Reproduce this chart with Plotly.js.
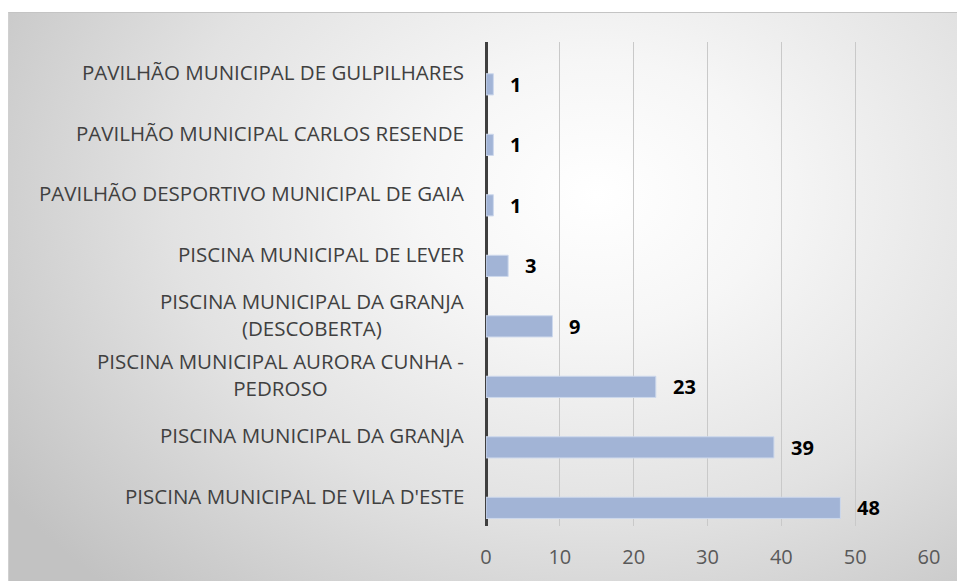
<!DOCTYPE html>
<html>
<head>
<meta charset="utf-8">
<script src="https://cdn.plot.ly/plotly-3.0.1.min.js"></script>
<style>
  html, body { margin: 0; padding: 0; background: #ffffff; }
  #wrap {
    position: absolute; left: 8px; top: 12px; width: 949px; height: 569px;
    box-sizing: border-box;
    border-top: 1px solid #c4c4c4; border-left: 1px solid #d0d0d0;
    background: radial-gradient(ellipse 75% 95% at 62% 32%, #ffffff 0%, #f6f6f6 25%, #e2e2e2 60%, #c2c2c2 100%);
  }
  #chart { width: 949px; height: 569px; position: absolute; left: -1px; top: -1px; }
</style>
</head>
<body>
<div id="wrap"><div id="chart"></div></div>
<script>
// Categories listed from bottom to top
const categories = [
  "PISCINA MUNICIPAL DE VILA D'ESTE",
  "PISCINA MUNICIPAL DA GRANJA",
  "PISCINA MUNICIPAL AURORA CUNHA -<br>PEDROSO",
  "PISCINA MUNICIPAL DA GRANJA<br>(DESCOBERTA)",
  "PISCINA MUNICIPAL DE LEVER",
  "PAVILHÃO DESPORTIVO MUNICIPAL DE GAIA",
  "PAVILHÃO MUNICIPAL CARLOS RESENDE",
  "PAVILHÃO MUNICIPAL DE GULPILHARES"
];
const values = [48, 39, 23, 9, 3, 1, 1, 1];
const xTicks = [0, 10, 20, 30, 40, 50, 60];

const labelFont = { family: "'Open Sans', sans-serif", size: 20.5, color: "#404040" };

const trace = {
  type: "bar",
  orientation: "h",
  x: values,
  y: categories,
  width: 0.35,
  offset: -0.375,
  marker: { color: "rgb(162,180,214)", line: { color: "rgb(205,216,236)", width: 1 } },
  hoverinfo: "none"
};

const annotations = [];
categories.forEach((c, i) => {
  annotations.push({
    xref: "paper", yref: "y", x: 0, y: c,
    xanchor: "right", yanchor: "middle", align: "center",
    xshift: -20, text: c, showarrow: false, font: labelFont
  });
  annotations.push({
    xref: "x", yref: "y", x: values[i], y: c,
    xanchor: "left", yanchor: "middle",
    xshift: 15, yshift: -12, text: "<b>" + values[i] + "</b>", showarrow: false,
    font: { family: "'Open Sans', sans-serif", size: 20, color: "#000000" }
  });
});

const layout = {
  width: 949, height: 569,
  margin: { l: 478, r: 28, t: 30, b: 55 },
  paper_bgcolor: "rgba(0,0,0,0)",
  plot_bgcolor: "rgba(0,0,0,0)",
  showlegend: false,
  xaxis: {
    range: [0, 60],
    tickvals: xTicks,
    ticktext: xTicks.map(String),
    showgrid: true, gridcolor: "#c9c9c9", gridwidth: 1,
    zeroline: true, zerolinecolor: "#3f3f3f", zerolinewidth: 3,
    ticks: "", ticklabelstandoff: 17,
    tickfont: { family: "'Open Sans', sans-serif", size: 20, color: "#595959" },
    fixedrange: true
  },
  yaxis: {
    type: "category",
    categoryorder: "array", categoryarray: categories,
    range: [-0.5, categories.length - 0.5],
    showticklabels: false, showgrid: false, zeroline: false, ticks: "",
    fixedrange: true
  },
  annotations: annotations
};

Plotly.newPlot("chart", [trace], layout, { displayModeBar: false, staticPlot: true });
</script>
</body>
</html>
